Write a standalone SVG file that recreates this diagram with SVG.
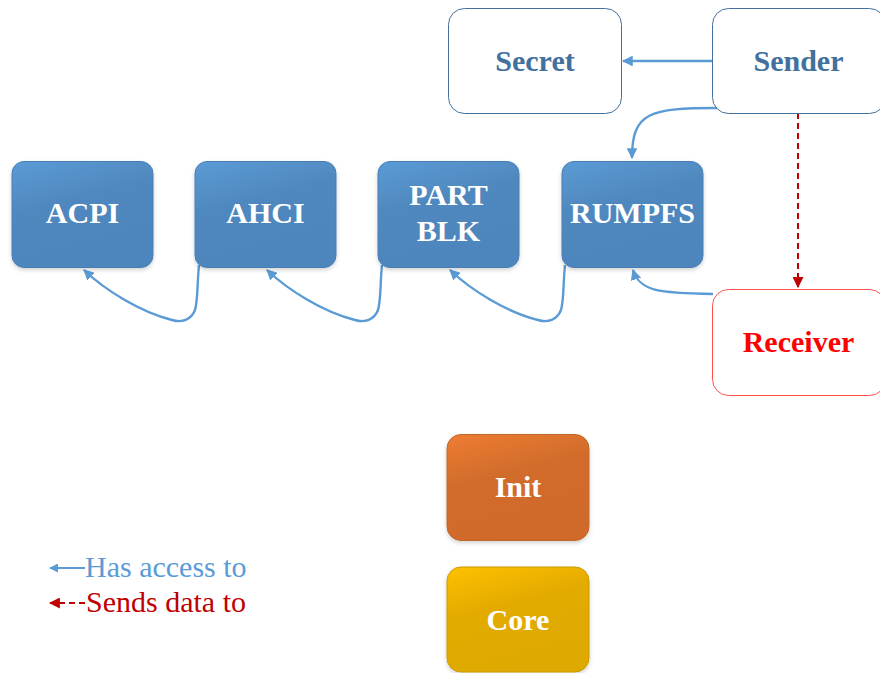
<svg xmlns="http://www.w3.org/2000/svg" width="880" height="673" viewBox="0 0 880 673">
<style>
.lbl{font-family:"Liberation Serif","Times New Roman",serif;font-weight:bold;font-size:30px;text-anchor:middle}
.w{fill:#ffffff}
.blue{fill:url(#gBlue);stroke:#4A7EB5;stroke-width:1}
.outl{fill:#ffffff;stroke:#41719C;stroke-width:1}
.acc{fill:none;stroke:#5B9BD5;stroke-width:2.4}
.snd{fill:none;stroke:#C00000;stroke-width:2;stroke-dasharray:6 4}
.leg{font-family:"Liberation Serif","Times New Roman",serif;font-size:30px}
</style>
<defs>
<linearGradient id="gBlue" x1="0" y1="0" x2="0.35" y2="1">
<stop offset="0" stop-color="#5B9BD5"/><stop offset="0.45" stop-color="#4F88BE"/><stop offset="1" stop-color="#4E86BC"/>
</linearGradient>
<linearGradient id="gOr" x1="0" y1="0" x2="0.35" y2="1">
<stop offset="0" stop-color="#ED7D31"/><stop offset="0.45" stop-color="#D26C2C"/><stop offset="1" stop-color="#D06A2C"/>
</linearGradient>
<linearGradient id="gGo" x1="0" y1="0" x2="0.35" y2="1">
<stop offset="0" stop-color="#FFC000"/><stop offset="0.45" stop-color="#E3AB00"/><stop offset="1" stop-color="#DEA900"/>
</linearGradient>
<filter id="sh" x="-10%" y="-10%" width="120%" height="130%">
<feDropShadow dx="0" dy="2" stdDeviation="2" flood-color="#000" flood-opacity="0.18"/>
</filter>
<marker id="aB" viewBox="0 0 10 10" refX="9" refY="5" markerWidth="4.5" markerHeight="4.5" orient="auto-start-reverse">
<path d="M0,0 L10,5 L0,10 z" fill="#5B9BD5"/>
</marker>
<marker id="aR" viewBox="0 0 10 10" refX="9" refY="5" markerWidth="5.5" markerHeight="5.5" orient="auto-start-reverse">
<path d="M0,0 L10,5 L0,10 z" fill="#C00000"/>
</marker>
</defs>

<g id="connectors">
<path class="acc" d="M712,61 L623,61" marker-end="url(#aB)"/>
<path class="acc" d="M717,108 C650,108 632,112 632,158" marker-end="url(#aB)"/>
<path class="snd" d="M798,113 L798,287" marker-end="url(#aR)"/>
<path class="acc" d="M713,294 C660,293 640,292 633,270" marker-end="url(#aB)"/>
<path class="acc" d="M199,265 C197,285 198,300 195,310 C191,320 182,323 172,320 C140,312 105,290 84,270" marker-end="url(#aB)"/>
<path class="acc" d="M382,265 C380,285 381,300 378,310 C374,320 365,323 355,320 C323,312 288,290 267,270" marker-end="url(#aB)"/>
<path class="acc" d="M565,265 C563,285 564,300 561,310 C557,320 548,323 538,320 C506,312 471,290 450,270" marker-end="url(#aB)"/>
</g>

<g id="secret"><rect class="outl" x="448.5" y="8.5" width="173" height="105" rx="16"/><text class="lbl" x="535" y="71" fill="#41719C">Secret</text></g>
<g id="sender"><rect class="outl" x="712.5" y="8.5" width="173" height="105" rx="16"/><text class="lbl" x="798.5" y="71" fill="#41719C">Sender</text></g>
<g id="acpi"><rect class="blue" filter="url(#sh)" x="12" y="161.5" width="141" height="106" rx="12"/><text class="lbl w" x="82.5" y="223">ACPI</text></g>
<g id="ahci"><rect class="blue" filter="url(#sh)" x="195" y="161.5" width="141" height="106" rx="12"/><text class="lbl w" x="265.5" y="223">AHCI</text></g>
<g id="partblk"><rect class="blue" filter="url(#sh)" x="378" y="161.5" width="141" height="106" rx="12"/><text class="lbl w" x="448.5" y="205">PART</text><text class="lbl w" x="448.5" y="241">BLK</text></g>
<g id="rumpfs"><rect class="blue" filter="url(#sh)" x="562" y="161.5" width="141" height="106" rx="12"/><text class="lbl w" x="632.5" y="223">RUMPFS</text></g>
<g id="receiver"><rect x="712.5" y="289.5" width="173" height="106" rx="16" fill="#ffffff" stroke="#FF5050" stroke-width="1"/><text class="lbl" x="798.5" y="352" fill="#FF0000">Receiver</text></g>
<g id="init"><rect filter="url(#sh)" x="447" y="434.5" width="142" height="106" rx="14" fill="url(#gOr)" stroke="#C0682A" stroke-width="1"/><text class="lbl w" x="518" y="497">Init</text></g>
<g id="core"><rect filter="url(#sh)" x="447" y="567" width="142" height="105" rx="14" fill="url(#gGo)" stroke="#C99A00" stroke-width="1"/><text class="lbl w" x="518" y="630">Core</text></g>

<g id="legend">
<path d="M85,568 L50,568" stroke="#5B9BD5" stroke-width="2" fill="none" marker-end="url(#aB)"/>
<text class="leg" x="85" y="577" fill="#5B9BD5">Has access to</text>
<path d="M85,603 L50,603" stroke="#C00000" stroke-width="2" stroke-dasharray="6 4" fill="none" marker-end="url(#aR)"/>
<text class="leg" x="86" y="612" fill="#C00000">Sends data to</text>
</g>
</svg>
